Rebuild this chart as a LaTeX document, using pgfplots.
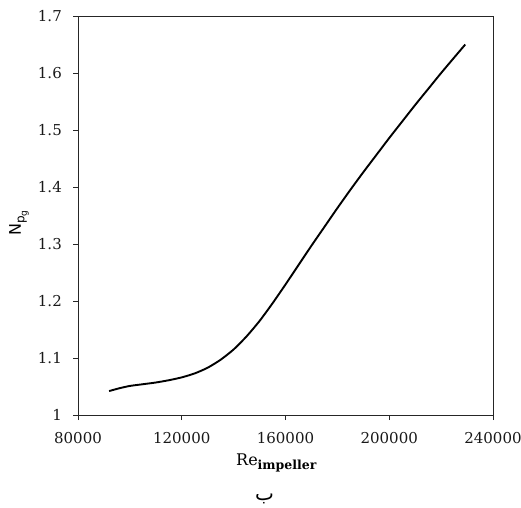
\documentclass[border=0pt]{standalone}
\usepackage{fontspec}
\setmainfont{DejaVu Serif}
\newfontfamily\sansf{DejaVu Sans}
\newfontfamily\arabicfont[Script=Arabic]{DejaVu Sans}
\TeXXeTstate=1
\usepackage{pgfplots}
\pgfplotsset{compat=1.18}
\begin{document}
\fontsize{15}{18}\selectfont
\begin{tikzpicture}
\path[use as bounding box] (-78pt,-92pt) rectangle (443pt,415pt);
\begin{axis}[
  at={(0pt,0pt)}, anchor=south west,
  scale only axis, width=415pt, height=399pt,
  xmin=80000, xmax=240000, ymin=1, ymax=1.7,
  xtick={80000,120000,160000,200000,240000},
  xticklabels={80000,120000,160000,200000,240000},
  ytick={1,1.1,1.2,1.3,1.4,1.5,1.6,1.7},
  yticklabels={1,1.1,1.2,1.3,1.4,1.5,1.6,1.7},
  /pgf/number format/assume math mode=true,
  scaled ticks=false,
  tick align=outside, xtick pos=bottom, ytick pos=left,
  major tick length=5pt,
  axis line style={line width=0.8pt, black!85},
  tick style={line width=0.8pt, black!85},
  every tick label/.style={inner sep=0pt, text=black!90},
  xticklabel style={anchor=north, yshift=-12pt},
  yticklabel style={anchor=east, xshift=-11pt},
  clip=false,
]
\addplot[black, line width=1.9pt, smooth, tension=0.4] coordinates {
(92000,1.042) (96000,1.047) (100000,1.051) (105000,1.054) (110000,1.057)
(115000,1.061) (120000,1.066) (125000,1.073) (130000,1.083) (135000,1.097)
(140000,1.115) (145000,1.138) (150000,1.165) (155000,1.196) (160000,1.229)
(165000,1.263) (170000,1.297) (175000,1.330) (180000,1.363) (185000,1.395)
(190000,1.426) (195000,1.456) (200000,1.486) (205000,1.515) (210000,1.544)
(215000,1.572) (220000,1.600) (225000,1.627) (229300,1.650)
};
\end{axis}
\node[anchor=base west, inner sep=0pt] at (158pt,-50pt)
  {\fontsize{16}{18}\selectfont Re\raisebox{-4pt}{\fontsize{12.5}{14}\selectfont\bfseries impeller}};
\node[rotate=90, anchor=base west, inner sep=0pt] at (-57pt,179pt)
  {\fontsize{16}{18}\selectfont\sansf N\raisebox{-3.5pt}{\fontsize{12}{13}\selectfont p\raisebox{-2.5pt}{\fontsize{9}{10}\selectfont g}}};
\node[anchor=center, inner sep=0pt] at (186.5pt,-84pt)
  {\fontsize{20}{22}\selectfont\arabicfont\beginR ب\endR};
\end{tikzpicture}
\end{document}
